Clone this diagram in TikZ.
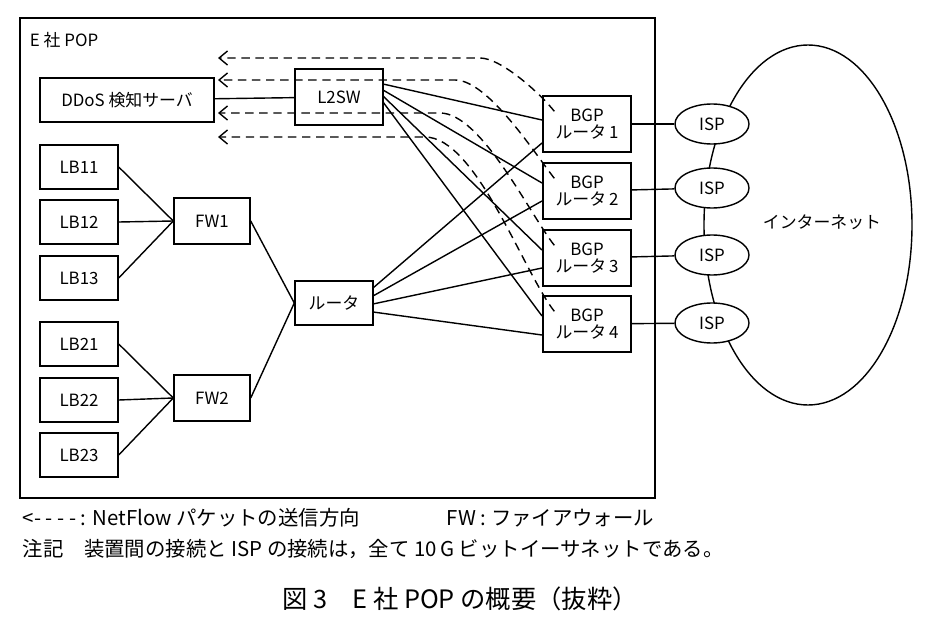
\documentclass[tikz,border=0pt]{standalone}
\usepackage{fontspec}
\setmainfont{Noto Sans CJK JP}
\usetikzlibrary{calc,arrows.meta,shapes.geometric}

\tikzset{
  box/.style={draw,line width=1pt,minimum height=1.1cm,inner sep=1pt,font=\large},
  bgp/.style={box,minimum width=2.2cm,minimum height=1.4cm,align=center,font=\large\linespread{0.9}\selectfont},
  isp/.style={draw,line width=1pt,ellipse,minimum width=1.85cm,minimum height=1cm,font=\large,fill=white},
  link/.style={line width=1pt},
  flow/.style={line width=1pt,dashed,dash pattern=on 6pt off 4pt,-{Straight Barb[length=6pt,width=10pt]}},
  note/.style={anchor=west,font=\fontsize{14.5}{16}\selectfont},
}

\begin{document}
\begin{tikzpicture}[x=0.025cm,y=-0.025cm]
\useasboundingbox (0,0) rectangle (936,624);
\draw[link] (20,18) rectangle (655,498);
\node[anchor=west,font=\large] at (25,40) {E 社 POP};

\node[box,minimum width=4.35cm] (ddos) at (127,100) {DDoS 検知サーバ};
\node[box,minimum width=2.2cm,minimum height=1.4cm] (l2sw) at (339,97) {L2SW};
\foreach \n/\y in {11/167,12/222,13/278,21/344,22/400,23/455}
  \node[box,minimum width=1.95cm] (lb\n) at (79,\y) {LB\n};
\node[box,minimum width=1.9cm,minimum height=1.15cm] (fw1) at (212,221) {FW1};
\node[box,minimum width=1.9cm,minimum height=1.15cm] (fw2) at (212,398) {FW2};
\node[box,minimum width=1.95cm] (rt) at (334,303) {ルータ};
\foreach \i/\y in {1/124,2/191,3/258,4/324}
  \node[bgp] (bgp\i) at (587,\y) {BGP\\ルータ\,\i};

\draw[link] (808,225) ellipse (104 and 180);
\node[font=\large] at (822,222) {インターネット};
\foreach \i/\y in {1/124,2/188,3/255,4/323}{
  \node[isp] (isp\i) at (712,\y) {ISP};
  \draw[link] (bgp\i) -- (isp\i);
}

\draw[link] (ddos) -- (l2sw);
\foreach \i in {1,2,3}{
  \draw[link] (lb1\i.east) -- (fw1.west);
  \draw[link] (lb2\i.east) -- (fw2.west);
}
\draw[link] (fw1.east) -- (rt.west);
\draw[link] (fw2.east) -- (rt.west);
\foreach \i/\a/\b in {1/84/120,2/90/183,3/96/250,4/102/316}
  \draw[link] (383,\a) -- (542,\b);
\foreach \i/\a/\b in {1/288/143,2/296/201,3/304/268,4/312/335}
  \draw[link] (373,\a) -- (542,\b);

% NetFlow
\foreach \i/\y/\x in {1/58/480,2/80/455,3/113/440,4/137/425}
  \draw[flow] ($(bgp\i.north west)+(12,16)$) to[out=128,in=0,looseness=0.6] (\x,\y) -- (218,\y);

\node[note] at (18,518) {\textless- - - - : NetFlow パケットの送信方向};
\node[note] at (442,518) {FW : ファイアウォール};
\node[note] at (18,549) {注記\quad 装置間の接続と ISP の接続は，全て 10\,G ビットイーサネットである。};
\node[font=\fontsize{18}{20}\selectfont] at (460,599) {図 3\quad E 社 POP の概要（抜粋）};
\end{tikzpicture}
\end{document}
